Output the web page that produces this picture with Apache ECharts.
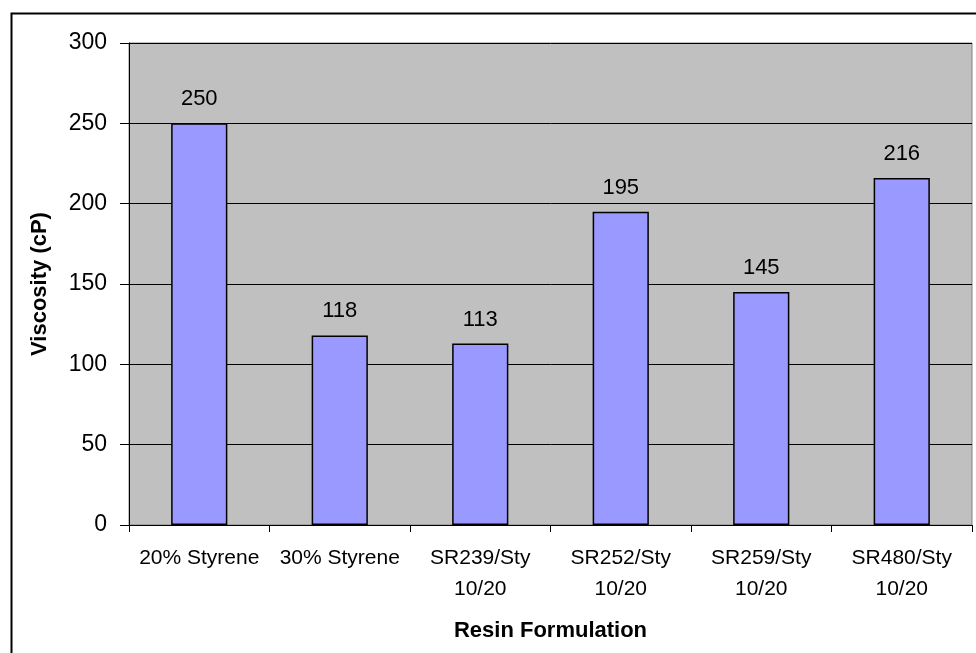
<!DOCTYPE html>
<html>
<head>
<meta charset="utf-8">
<script src="https://cdn.jsdelivr.net/npm/echarts@6/dist/echarts.min.js"></script>
<style>
html,body{margin:0;padding:0;background:#fff;}
#c{width:976px;height:653px;}
</style>
</head>
<body>
<div id="c"></div>
<script>
const categories = ['20% Styrene', '30% Styrene', 'SR239/Sty\n10/20', 'SR252/Sty\n10/20', 'SR259/Sty\n10/20', 'SR480/Sty\n10/20'];
const viscosity = [250, 118, 113, 195, 145, 216];
const yTicks = [0, 50, 100, 150, 200, 250, 300];

const chart = echarts.init(document.getElementById('c'));
const font = 'Liberation Sans, Arial, sans-serif';
chart.setOption({
  animation: false,
  backgroundColor: '#fff',
  graphic: [{
    type: 'rect', left: 9, top: 11, z: 100,
    shape: {width: 990, height: 680},
    style: {fill: 'none', stroke: '#000', lineWidth: 2}
  }],
  grid: {left: 129, top: 43, right: 4, bottom: 128, show: true, backgroundColor: '#c0c0c0', borderColor: '#808080', borderWidth: 1},
  xAxis: {
    type: 'category',
    data: categories,
    name: 'Resin Formulation',
    nameLocation: 'middle',
    nameGap: 95,
    nameTextStyle: {fontFamily: font, fontSize: 22, fontWeight: 'bold', color: '#000'},
    axisLine: {lineStyle: {color: '#000', width: 1}},
    axisTick: {show: true, length: 7, lineStyle: {color: '#000'}},
    axisLabel: {fontFamily: font, fontSize: 21, color: '#000', margin: 18, lineHeight: 31, interval: 0}
  },
  yAxis: {
    type: 'value',
    min: 0, max: 300, interval: 50,
    name: 'Viscosity (cP)',
    nameLocation: 'middle',
    nameGap: 78,
    nameRotate: 90,
    nameTextStyle: {fontFamily: font, fontSize: 22, fontWeight: 'bold', color: '#000'},
    axisLine: {show: true, lineStyle: {color: '#000', width: 1}},
    axisTick: {show: true, length: 9, lineStyle: {color: '#000'}},
    axisLabel: {fontFamily: font, fontSize: 23, color: '#000', margin: 22,
      formatter: v => yTicks.includes(v) ? String(v) : ''},
    splitLine: {show: true, lineStyle: {color: '#000', width: 1}}
  },
  series: [{
    type: 'bar',
    data: viscosity,
    barWidth: '40%',
    itemStyle: {color: '#9999ff', borderColor: '#000', borderWidth: 1.5},
    label: {show: true, position: 'top', distance: 13, fontFamily: font, fontSize: 22, color: '#000'}
  }]
});
</script>
</body>
</html>
